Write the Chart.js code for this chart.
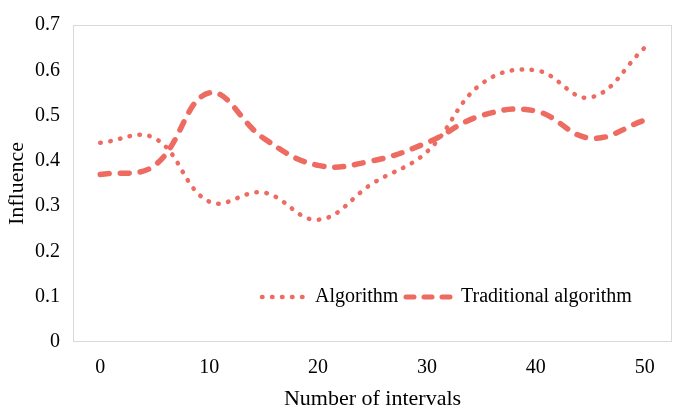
<!DOCTYPE html>
<html><head><meta charset="utf-8">
<script src="https://cdn.jsdelivr.net/npm/chart.js@4/dist/chart.umd.min.js"></script>
<style>html,body{margin:0;padding:0;background:#fff;overflow:hidden}#wrap{width:675px;height:413px}</style>
</head><body><div id="wrap"><canvas id="c" width="675" height="413"></canvas></div>
<script>
const categories = ['0','5','10','15','20','25','30','35','40','45','50'];
const tickLabels = ['0','','10','','20','','30','','40','','50'];
const yTickValues = [0, 0.1, 0.2, 0.3, 0.4, 0.5, 0.6, 0.7];
const seriesNames = ['Algorithm', 'Traditional algorithm'];
const algorithm = [0.44, 0.45, 0.31, 0.33, 0.27, 0.35, 0.42, 0.57, 0.60, 0.54, 0.65];
const traditional = [0.37, 0.39, 0.55, 0.45, 0.39, 0.40, 0.44, 0.50, 0.51, 0.45, 0.49];

const COLOR = '#EE6B62';
const FONT = 'Liberation Serif';

const frameAndLegend = {
  id: 'frameAndLegend',
  beforeDatasetsDraw(chart) {
    const {ctx, chartArea: a} = chart;
    ctx.save();
    ctx.strokeStyle = '#d9d9d9';
    ctx.lineWidth = 1;
    ctx.strokeRect(Math.round(a.left) + 0.5, Math.round(a.top) + 0.5, Math.round(a.right - a.left) - 1, Math.round(a.bottom - a.top) - 1);
    ctx.restore();
  },
  afterDatasetsDraw(chart) {
    const {ctx} = chart;
    const y = 297;
    ctx.save();
    ctx.strokeStyle = COLOR;
    ctx.lineCap = 'round';
    // dotted sample
    ctx.lineWidth = 4.5;
    ctx.setLineDash([0.5, 9.5]);
    ctx.beginPath(); ctx.moveTo(262, y); ctx.lineTo(306, y); ctx.stroke();
    // dashed sample
    ctx.lineWidth = 5;
    ctx.setLineDash([8, 10]);
    ctx.beginPath(); ctx.moveTo(406, y); ctx.lineTo(456, y); ctx.stroke();
    ctx.setLineDash([]);
    ctx.fillStyle = '#000';
    ctx.font = '20px "' + FONT + '"';
    ctx.textBaseline = 'middle';
    ctx.textAlign = 'left';
    ctx.fillText(seriesNames[0], 315, y);
    ctx.fillText(seriesNames[1], 461, y);
    ctx.restore();
  }
};

new Chart(document.getElementById('c'), {
  type: 'line',
  data: {
    labels: categories,
    datasets: [
      { label: seriesNames[0], data: algorithm, borderColor: COLOR, backgroundColor: COLOR,
        borderWidth: 4.5, borderDash: [0.5, 9.5], borderCapStyle: 'round', tension: 0.4,
        pointRadius: 0, fill: false },
      { label: seriesNames[1], data: traditional, borderColor: COLOR, backgroundColor: COLOR,
        borderWidth: 5.5, borderDash: [9, 11], borderCapStyle: 'round', tension: 0.4,
        pointRadius: 0, fill: false }
    ]
  },
  options: {
    responsive: false,
    animation: false,
    devicePixelRatio: 1,
    layout: { padding: { left: 0, right: 3, top: 11, bottom: 0 } },
    plugins: { legend: { display: false }, tooltip: { enabled: false } },
    scales: {
      x: {
        type: 'category',
        offset: true,
        grid: { display: false, drawTicks: false },
        border: { display: false },
        ticks: {
          autoSkip: false, maxRotation: 0, padding: 14,
          color: '#000', font: { family: FONT, size: 20 },
          callback: (v, i) => tickLabels[i]
        },
        title: { display: true, text: 'Number of intervals', color: '#000',
                 font: { family: FONT, size: 22 }, padding: { top: 0, bottom: 1 } },
        afterFit: s => { s.height = 71; }
      },
      y: {
        min: 0, max: 0.7,
        grid: { display: false, drawTicks: false },
        border: { display: false },
        afterBuildTicks: s => { s.ticks = yTickValues.map(v => ({ value: v })); },
        ticks: {
          padding: 13, color: '#000', font: { family: FONT, size: 20 },
          callback: v => (v === 0 ? '0' : v.toFixed(1))
        },
        title: { display: true, text: 'Influence', color: '#000',
                 font: { family: FONT, size: 22 }, padding: { top: 4, bottom: 0 } },
        afterFit: s => { s.width = 73; }
      }
    }
  },
  plugins: [frameAndLegend]
});
</script>
</body></html>
